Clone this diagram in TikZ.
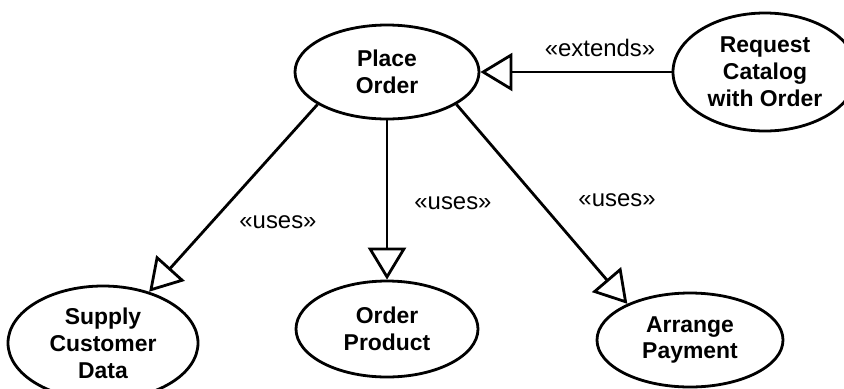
\documentclass[tikz,border=0pt]{standalone}
\usepackage{fontspec}
\setmainfont{Liberation Sans}
\usetikzlibrary{arrows.meta,shapes.geometric}

\begin{document}
\begin{tikzpicture}[x=1bp,y=-1bp,
		usecase/.style={draw, ellipse, line width=2.8bp, inner sep=0pt, align=center,
			font=\bfseries\fontsize{23}{27}\selectfont},
		stereo/.style={font=\fontsize{24}{26}\selectfont},
		uses/.style={line width=2.8bp, -{Triangle[open, length=32bp, width=38bp]}}]
		\useasboundingbox (0,0) rectangle (844,388);

		% Use cases
		\node[usecase, minimum width=184bp, minimum height=94bp] (place) at (387,72) {Place\\Order};
		\node[usecase, minimum width=184bp, minimum height=118bp] (request) at (765,72) {Request\\Catalog\\with Order};
		\node[usecase, minimum width=190bp, minimum height=114bp] (supply) at (103,343) {Supply\\Customer\\Data};
		\node[usecase, minimum width=182bp, minimum height=96bp] (order) at (387,329) {Order\\Product};
		\node[usecase, minimum width=186bp, minimum height=94bp] (arrange) at (690,340) {Arrange\\Payment};

		% Relaties
		\draw[uses] (request.west) -- (place.east);
		\draw[uses] (place.205) -- (supply.48);
		\draw[uses] (place.south) -- (order.north);
		\draw[uses] (place.335) -- (arrange.150);

		% Stereotypen
		\node[stereo] (extlabel) at (600,48) {«extends»};
		\node[stereo] (uselabela) at (278,222) {«uses»};
		\node[stereo] (uselabelb) at (453,203) {«uses»};
		\node[stereo] (uselabelc) at (617,200) {«uses»};

	\end{tikzpicture}
\end{document}
